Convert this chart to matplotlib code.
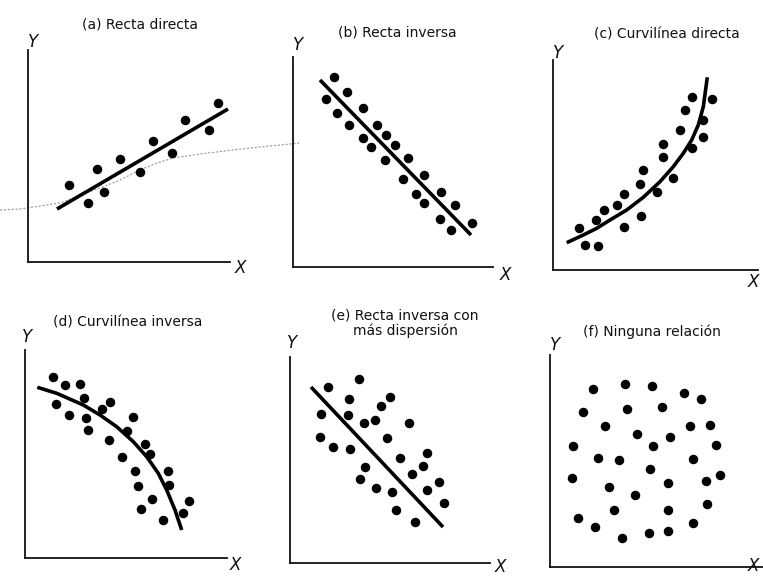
import matplotlib
matplotlib.use("Agg")
import matplotlib.pyplot as plt
import numpy as np

plt.rcParams['font.family'] = ['Liberation Sans Narrow', 'DejaVu Sans']

# panel titles
titles = ["(a) Recta directa", "(b) Recta inversa", "(c) Curvilínea directa",
          "(d) Curvilínea inversa", "(e) Recta inversa con\nmás dispersión",
          "(f) Ninguna relación"]

# scatter values (x, y in panel units)
a_x = [41, 60, 69, 76, 92, 112, 125, 144, 157, 181, 190]
a_y = [77, 59, 93, 70, 103, 90, 121, 109, 142, 132, 159]
a_line_x = [29, 200]
a_line_y = [53, 153]

b_x = [41, 33, 54, 44, 70, 56, 84, 70, 93, 78, 102, 92, 115, 110, 131, 123,
       148, 131, 162, 147, 158, 179]
b_y = [190, 168, 175, 154, 159, 142, 142, 129, 132, 120, 122, 107, 109, 88,
       92, 73, 75, 64, 62, 48, 37, 44]
b_line_x = [27, 178]
b_line_y = [187, 32]

c_x = [26, 32, 45, 43, 51, 64, 71, 71, 87, 88, 90, 104, 110, 110, 120, 127,
       132, 139, 139, 150, 150, 159]
c_y = [42, 25, 24, 50, 60, 65, 76, 43, 86, 54, 100, 78, 113, 126, 92, 140,
       160, 173, 122, 150, 133, 171]
c_curve_x = [13.7, 30.3, 43.7, 57, 73.7, 90.3, 107, 120.3, 130.3, 138.7, 145.3, 150.3, 154.3]
c_curve_y = [27.3, 35, 41.7, 50, 60, 72.7, 88.3, 103.3, 116.7, 130, 145, 163.3, 192.7]

d_x = [28, 40, 55, 31, 44, 59, 61, 63, 77, 85, 84, 102, 108, 97, 120, 125,
       110, 113, 143, 144, 127, 116, 138, 158, 164]
d_y = [181, 173, 174, 154, 143, 160, 140, 128, 149, 156, 118, 127, 141, 101,
       114, 104, 87, 72, 87, 73, 59, 49, 38, 45, 57]
d_curve_x = [12.3, 31.7, 58.3, 75, 91.7, 108.3, 121.7, 133.3, 141.7, 150, 156.7]
d_curve_y = [170.7, 164.7, 153, 143, 131.3, 116.3, 101.3, 84.7, 68, 48, 28]

e_x = [38, 69, 59, 100, 91, 31, 58, 74, 85, 119, 30, 43, 60, 97, 110, 137,
       75, 133, 122, 70, 86, 102, 137, 149, 154, 106, 125]
e_y = [176, 184, 164, 166, 157, 149, 148, 140, 143, 140, 126, 116, 114, 125,
       105, 110, 96, 97, 89, 84, 75, 71, 73, 81, 60, 53, 41]
e_line_x = [21, 153]
e_line_y = [176, 36]

f_x = [43, 75, 102, 134, 151, 33, 77, 112, 55, 87, 120, 140, 160, 23, 103,
       166, 48, 69, 143, 100, 22, 59, 118, 156, 170, 85, 64, 118, 157, 28,
       45, 143, 72, 99, 118]
f_y = [178, 183, 181, 174, 168, 155, 158, 160, 141, 133, 130, 141, 142, 121,
       121, 122, 109, 107, 108, 98, 89, 80, 84, 86, 92, 72, 57, 57, 63, 49,
       40, 44, 29, 34, 36]

# faint dotted trace crossing panels (a) and (b), in picture pixels
trace_x = [0, 20, 60, 100, 120, 140, 157, 173, 200, 233, 260, 300]
trace_y = [210, 209, 203, 188, 180, 170, 163, 158, 154, 150, 147, 143]

W, H = 763, 578
fig = plt.figure(figsize=(W / 100, H / 100), dpi=100)
fig.patch.set_facecolor("white")

bg = fig.add_axes([0, 0, 1, 1])
bg.set_xlim(0, W)
bg.set_ylim(H, 0)
bg.axis("off")
bg.plot(trace_x, trace_y, color="#999999", lw=0.8, ls=(0, (2, 1.5)), zorder=0)

# panel frames: origin (px), axis width, axis height
frames = [(28, 262, 202, 212), (293, 267, 200, 210), (553, 270, 205, 210),
          (25, 558, 202, 208), (290, 563, 200, 206), (550, 567, 213, 212)]
title_pos = [(112, 237), (104, 235), (114, 235), (103, 235), (115, 240), (102, 235)]
ylab_pos = [(5, 220), (5, 222), (5, 217), (2, 221), (2, 220), (5, 222)]
xlab_pos = [(212, -6), (212, -8), (200, -12), (210, -7), (210, -4), (203, 1)]

panels = [(a_x, a_y, a_line_x, a_line_y), (b_x, b_y, b_line_x, b_line_y),
          (c_x, c_y, c_curve_x, c_curve_y), (d_x, d_y, d_curve_x, d_curve_y),
          (e_x, e_y, e_line_x, e_line_y), (f_x, f_y, None, None)]

for i, (ox, oy, w, h) in enumerate(frames):
    ax = fig.add_axes([ox / W, 1 - oy / H, w / W, h / H])
    ax.patch.set_visible(False)
    ax.set_xlim(0, w)
    ax.set_ylim(0, h)
    ax.set_xticks([])
    ax.set_yticks([])
    for s in ["top", "right"]:
        ax.spines[s].set_visible(False)
    for s in ["left", "bottom"]:
        ax.spines[s].set_linewidth(1.3)
        ax.spines[s].set_color("#111111")

    px, py, lx, ly = panels[i]
    ax.scatter(px, py, s=34, color="black", zorder=3, clip_on=False)
    if lx is not None:
        ax.plot(lx, ly, color="black", lw=2.6, solid_capstyle="butt", zorder=2)

    tx, ty = title_pos[i]
    ax.text(tx, ty, titles[i], ha="center", va="center", fontsize=10,
            color="#111111", clip_on=False, linespacing=1.1)
    yx, yy = ylab_pos[i]
    ax.text(yx, yy, "Y", ha="center", va="center", fontsize=12,
            style="italic", color="#111111", clip_on=False)
    xx, xy = xlab_pos[i]
    ax.text(xx, xy, "X", ha="center", va="center", fontsize=12,
            style="italic", color="#111111", clip_on=False)

fig.savefig("out.png", dpi=100)
